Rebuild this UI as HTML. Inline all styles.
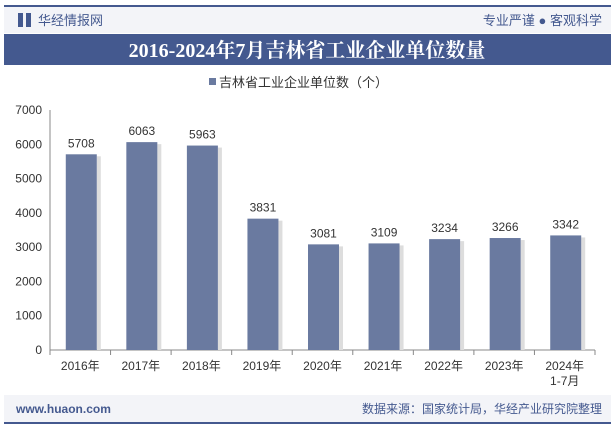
<!DOCTYPE html>
<html><head><meta charset="utf-8"><style>
body{margin:0;width:615px;height:427px;overflow:hidden;background:#fff;font-family:"Liberation Sans","Noto Sans CJK SC",sans-serif}
</style></head><body>
<svg width="615" height="427" font-family="Liberation Sans, Noto Sans CJK SC, sans-serif">
<rect x="4" y="5" width="607" height="28" fill="#f3f4f8"/>
<rect x="4" y="5" width="607" height="2" fill="#44598f"/>
<rect x="18" y="13" width="5" height="14" fill="#44598f"/>
<rect x="26" y="13" width="5" height="14" fill="#44598f"/>
<text x="38" y="25" font-size="13" fill="#44598f">华经情报网</text>
<text x="602" y="25" font-size="13" fill="#44598f" text-anchor="end">专业严谨 ● 客观科学</text>
<rect x="4" y="34" width="607" height="31" fill="#44598f"/>
<text x="307" y="57" font-size="20" font-weight="bold" fill="#fff" text-anchor="middle" font-family="Liberation Serif, Noto Serif CJK SC, serif">2016-2024年7月吉林省工业企业单位数量</text>
<rect x="209" y="78" width="7" height="7" fill="#6a7aa0"/>
<text x="219" y="87" font-size="13" fill="#333">吉林省工业企业单位数（个）</text>
<g id="plot"></g>
<rect x="4" y="395" width="607" height="28" fill="#f3f4f8"/>
<rect x="4" y="422" width="607" height="2" fill="#44598f"/>
<text x="16" y="413" font-size="12" fill="#44598f" font-weight="bold">www.huaon.com</text>
<text x="602" y="413" font-size="12" fill="#44598f" text-anchor="end">数据来源：国家统计局，华经产业研究院整理</text>
</svg>
<script>
const categories=["2016年","2017年","2018年","2019年","2020年","2021年","2022年","2023年","2024年"];
const catLine2=["","","","","","","","","1-7月"];
const values=[5708,6063,5963,3831,3081,3109,3234,3266,3342];
const yTicks=[0,1000,2000,3000,4000,5000,6000,7000];
const NS="http://www.w3.org/2000/svg";
const g=document.getElementById('plot');
const x0=50,x1=595,yb=350,yt=110,ymax=7000;
const step=(x1-x0)/categories.length;
const y=v=>yb-(v/ymax)*(yb-yt);
const xc=i=>x0+step*(i+0.5);
function mk(t,a,txt){const e=document.createElementNS(NS,t);for(const k in a)e.setAttribute(k,a[k]);if(txt!=null)e.textContent=txt;g.appendChild(e);return e;}
let e=mk('line',{x1:x0,x2:x0,y1:yt,y2:yb,stroke:'#888'});


e=mk('line',{x1:x0,x2:x1,y1:yb,y2:yb,stroke:'#888'});


yTicks.forEach(v=>{
 e=mk('text',{x:x0-8,y:y(v)+4,'font-size':12,fill:'#333','text-anchor':'end'},v);
 
 
});
for(let i=0;i<=categories.length;i++){mk('line',{x1:x0+step*i,x2:x0+step*i,y1:yb,y2:yb+5,stroke:'#888'});}
values.forEach((v,i)=>{
 const bw=31;
 mk('rect',{x:xc(i)-bw/2+1+bw,y:y(v)+2,width:4,height:yb-y(v)-2,fill:'#ddd'});
 e=mk('rect',{x:xc(i)-bw/2+1,y:y(v),width:bw,height:yb-y(v),fill:'#6a7aa0'});
 
 
 e=mk('text',{x:xc(i)+1,y:y(v)-7,'font-size':12,fill:'#333','text-anchor':'middle'},v);
 
 
 e=mk('text',{x:xc(i),y:yb+20,'font-size':12,fill:'#333','text-anchor':'middle'},categories[i]);
 
 
 if(catLine2[i]){e=mk('text',{x:xc(i),y:yb+35,'font-size':12,fill:'#333','text-anchor':'middle'},catLine2[i]);
 
 }
});
</script>
</body></html>
